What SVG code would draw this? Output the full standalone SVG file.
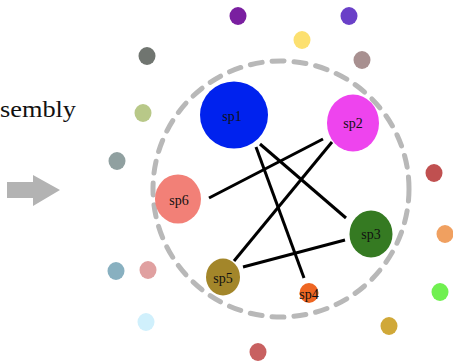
<svg xmlns="http://www.w3.org/2000/svg" width="453" height="361" viewBox="0 0 453 361">
<style>
.lbl{font-family:"Liberation Serif","DejaVu Serif",serif;font-size:14px;fill:#111;text-anchor:middle;dominant-baseline:central}
.edge{stroke:#000;stroke-width:3;fill:none}
.dot{stroke:none}
</style>
<rect width="453" height="361" fill="#fff"/>
<text x="0" y="117" font-family="'Liberation Serif','DejaVu Serif',serif" font-size="24" fill="#111" textLength="76" lengthAdjust="spacingAndGlyphs">sembly</text>
<polygon id="arrow" points="7,182 33,182 33,175 60,190 33,206 33,198 7,198" fill="#b3b3b3"/>
<circle id="ring" cx="281" cy="189" r="128" fill="none" stroke="#b8b8b8" stroke-width="5" stroke-dasharray="12 10" stroke-linecap="round"/>
<g id="outer-dots" class="dot">
<ellipse cx="238" cy="16" rx="8.5" ry="9" fill="#7a1fa0"/>
<ellipse cx="349" cy="16" rx="8.5" ry="9" fill="#6a40c8"/>
<ellipse cx="302" cy="40" rx="8.5" ry="9" fill="#fce070"/>
<ellipse cx="147" cy="56" rx="8.5" ry="9" fill="#707570"/>
<ellipse cx="362" cy="60" rx="8.5" ry="9" fill="#a89090"/>
<ellipse cx="143" cy="113" rx="8.5" ry="9" fill="#b8c888"/>
<ellipse cx="117" cy="161" rx="8.5" ry="9" fill="#90a0a0"/>
<ellipse cx="434" cy="173" rx="8.5" ry="9" fill="#c05050"/>
<ellipse cx="445" cy="234" rx="8.5" ry="9" fill="#f0a060"/>
<ellipse cx="440" cy="292" rx="8.5" ry="9" fill="#70f050"/>
<ellipse cx="116" cy="271" rx="8.5" ry="9" fill="#88b0c0"/>
<ellipse cx="148" cy="270" rx="8.5" ry="9" fill="#e0a0a0"/>
<ellipse cx="146" cy="322" rx="8.5" ry="9" fill="#d0f0fc"/>
<ellipse cx="258" cy="352" rx="8.5" ry="9" fill="#c86060"/>
<ellipse cx="389" cy="326" rx="8.5" ry="9" fill="#d0a838"/>
</g>
<g id="connectors">
<line class="edge" x1="260" y1="144" x2="346" y2="218"/>
<line class="edge" x1="256" y1="147" x2="304" y2="278"/>
<line class="edge" x1="323" y1="139" x2="209" y2="198"/>
<line class="edge" x1="332" y1="142" x2="234" y2="261"/>
<line class="edge" x1="345" y1="240" x2="243" y2="267"/>
</g>
<g id="sp1"><ellipse cx="234" cy="115" rx="34" ry="33.5" fill="#0022ee"/><text class="lbl" x="232" y="116">sp1</text></g>
<g id="sp2"><ellipse cx="353" cy="123" rx="26" ry="28.5" fill="#ee44ee"/><text class="lbl" x="353" y="123">sp2</text></g>
<g id="sp6"><ellipse cx="178" cy="199" rx="23" ry="24.5" fill="#f28077"/><text class="lbl" x="179" y="200">sp6</text></g>
<g id="sp3"><ellipse cx="371" cy="234" rx="21.5" ry="23.5" fill="#357a22"/><text class="lbl" x="371" y="234">sp3</text></g>
<g id="sp5"><ellipse cx="223" cy="277" rx="17" ry="18.5" fill="#a3862a"/><text class="lbl" x="223" y="278">sp5</text></g>
<g id="sp4"><ellipse cx="309" cy="293" rx="9.5" ry="10" fill="#ee6622"/><text class="lbl" x="309" y="294">sp4</text></g>
</svg>
